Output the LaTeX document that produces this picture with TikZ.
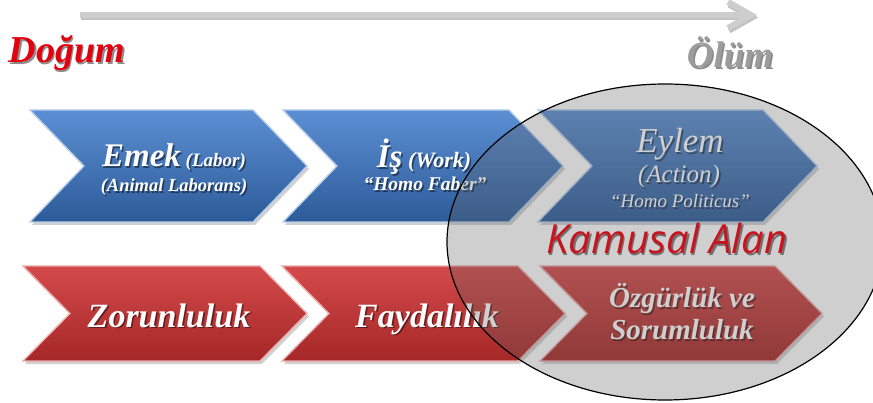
\documentclass[tikz,border=0pt]{standalone}
\usepackage{fontspec}
\setmainfont{Liberation Serif}
\newfontfamily\kamfont{Open Sans}
\usetikzlibrary{shapes.geometric}
\definecolor{bluetop}{HTML}{5B8FD3}
\definecolor{bluebot}{HTML}{2D5B99}
\definecolor{redtop}{HTML}{D44A4A}
\definecolor{redbot}{HTML}{A52727}
\definecolor{arrowgray}{HTML}{CDCDCD}
\definecolor{arrowshade}{HTML}{A9A9A9}
\definecolor{dogumred}{HTML}{E3000F}
\definecolor{olumgray}{HTML}{9C9C9C}
\definecolor{kamred}{HTML}{C8141E}
\definecolor{ovgray}{HTML}{626262}
\newcommand{\chevpath}[5]{(#1,#4) -- ({#3-#2},#4) -- (#3,{(#4+#5)/2}) -- ({#3-#2},#5) -- (#1,#5) -- ({#1+#2},{(#4+#5)/2}) -- cycle}
\newcommand{\stext}[4]{%
  \node[#3, text=black, text opacity=0.45, xshift=1.6pt, yshift=-1.6pt] (#1s) at (#2) {#4};
  \node[#3] (#1) at (#2) {#4};}
\tikzset{
  bluechev/.style={top color=bluetop, bottom color=bluebot, draw=bluetop!45!white, line width=1.3, line join=miter},
  redchev/.style={top color=redtop, bottom color=redbot, draw=redtop!45!white, line width=1.3, line join=miter},
  chevshadow/.style={fill=black, fill opacity=0.18},
  wtext/.style={anchor=base, inner sep=0pt, text=white, font=\bfseries\itshape},
  wtextr/.style={anchor=base, inner sep=0pt, text=white, font=\itshape},
  arrowline/.style={draw=arrowgray, line width=6, line join=miter},
  arrowsh/.style={draw=arrowshade, line width=6, line join=miter, opacity=0.7},
}
\begin{document}
\begin{tikzpicture}[x=1pt,y=-1pt]
\useasboundingbox (0,0) rectangle (873,403);
\fill[white] (0,0) rectangle (873,403);
\clip (0,0) rectangle (873,403);

% top time arrow
\coordinate (as) at (80,15);
\coordinate (ae) at (751,15);
\coordinate (au) at (728,2);
\coordinate (ad) at (728,28);
\draw[arrowsh] ([shift={(1,2.5)}]as) -- ([shift={(-3,2.5)}]ae);
\draw[arrowsh] ([shift={(1,2.5)}]au) -- ([shift={(1,2.5)}]ae) -- ([shift={(1,2.5)}]ad);
\draw[arrowline] (as) -- ([xshift=-4]ae);
\draw[arrowline] (au) -- (ae) -- (ad);

% Dogum / Olum
\stext{dogum}{67,63}{anchor=base, inner sep=0pt, text=dogumred, font=\fontsize{38}{40}\selectfont\bfseries\itshape}{Doğum}
\stext{olum}{730,68}{anchor=base, inner sep=0pt, text=olumgray, font=\fontsize{37}{39}\selectfont\bfseries\itshape}{Ölüm}

% chevron shadows
\fill[chevshadow] [shift={(2,3)}] \chevpath{30}{54}{307}{110}{222};
\fill[chevshadow] [shift={(2,3)}] \chevpath{283}{54}{563}{110}{222};
\fill[chevshadow] [shift={(2,3)}] \chevpath{538}{54}{817}{110}{222};
\fill[chevshadow] [shift={(2,3)}] \chevpath{23}{47}{307}{266}{361};
\fill[chevshadow] [shift={(2,3)}] \chevpath{282}{47}{565}{266}{361};
\fill[chevshadow] [shift={(2,3)}] \chevpath{540}{47}{822}{266}{361};

% blue chevrons
\shade[bluechev] \chevpath{30}{54}{307}{110}{222};
\shade[bluechev] \chevpath{283}{54}{563}{110}{222};
\shade[bluechev] \chevpath{538}{54}{817}{110}{222};
% red chevrons
\shade[redchev] \chevpath{23}{47}{307}{266}{361};
\shade[redchev] \chevpath{282}{47}{565}{266}{361};
\shade[redchev] \chevpath{540}{47}{822}{266}{361};

% blue texts
\stext{emek}{174,167}{wtext}{{\fontsize{33}{35}\selectfont Emek}\fontsize{19}{21}\selectfont{} (Labor)}
\stext{animal}{174,192}{wtext, font=\fontsize{18.5}{20}\selectfont\bfseries\itshape}{(Animal Laborans)}
\stext{is}{424,168}{wtext}{{\fontsize{33}{35}\selectfont İş}\fontsize{22}{24}\selectfont{} (Work)}
\stext{faber}{425,191}{wtext, font=\fontsize{19.5}{21}\selectfont\bfseries\itshape}{“Homo Faber”}
\stext{eylem}{680,153}{wtextr, font=\fontsize{35}{37}\selectfont\itshape}{Eylem}
\stext{action}{679,183}{wtextr, font=\fontsize{25}{27}\selectfont\itshape}{(Action)}
\stext{politicus}{680,208}{wtextr, font=\fontsize{19}{21}\selectfont\itshape}{“Homo Politicus”}

% red texts
\stext{zor}{169,327}{wtext, font=\fontsize{34}{36}\selectfont\bfseries\itshape}{Zorunluluk}
\stext{fayda}{427,327}{wtext, font=\fontsize{34}{36}\selectfont\bfseries\itshape}{Faydalılık}
\stext{ozg}{682,308}{wtext, font=\fontsize{29}{31}\selectfont\bfseries\itshape}{Özgürlük ve}
\stext{sor}{682,340}{wtext, font=\fontsize{29}{31}\selectfont\bfseries\itshape}{Sorumluluk}

% public sphere ellipse
\node[ellipse, minimum width=436, minimum height=316, inner sep=0pt, fill=ovgray, fill opacity=0.3, draw=black, line width=1.2] (kamusal) at (665,242) {};

\stext{kamtext}{667,254}{anchor=base, inner sep=0pt, text=kamred, font=\kamfont\itshape\fontsize{40}{42}\selectfont}{Kamusal Alan}
\end{tikzpicture}
\end{document}
